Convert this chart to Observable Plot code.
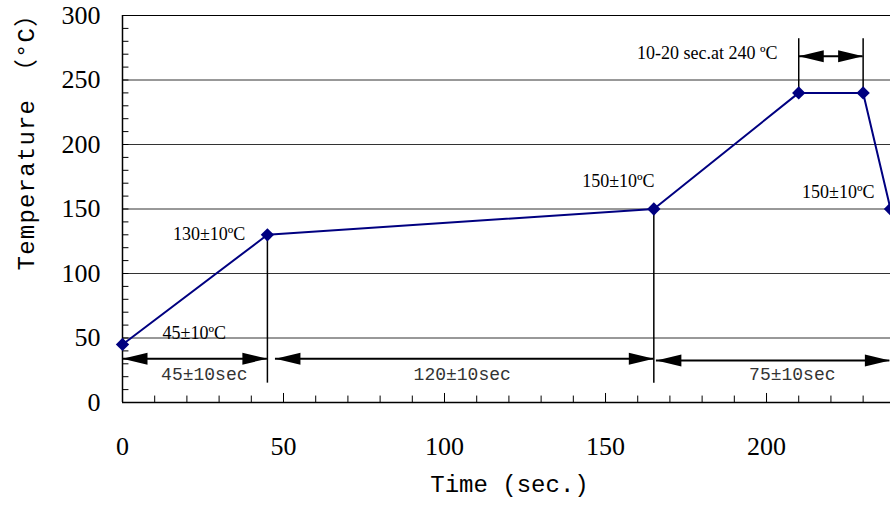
<!DOCTYPE html>
<html><head><meta charset="utf-8">
<script src="https://cdn.jsdelivr.net/npm/d3@7"></script>
<script src="https://cdn.jsdelivr.net/npm/@observablehq/plot@0.6"></script>
<style>body{margin:0;background:#fff;overflow:hidden}</style>
</head><body><div id="chart"></div>
<script>
// reflow profile
const times = [0, 45, 165, 210, 230, 238.5];
const temps = [45, 130, 150, 240, 240, 150];
// axes
const xTickLabels = [0, 50, 100, 150, 200];
const yTickLabels = [0, 50, 100, 150, 200, 250, 300];
const gridValues = [50, 100, 150, 200, 250];
const minorX = d3.range(10, 240, 10);
const minorY = d3.range(10, 300, 10);
const xTitle = "Time (sec.)";
const yTitle = "Temperature （°C）";
// temperature annotations
const tempLabelText = ["45±10ºC", "130±10ºC", "150±10ºC", "150±10ºC", "10-20 sec.at 240 ºC"];
const tempLabelX = [22.3, 26.9, 154, 222.3, 181.6];
const tempLabelY = [54, 130.2, 171.8, 163.3, 270.5];
// phase arrows
const arrowFrom = [0, 47.5, 165.8, 210];
const arrowTo = [45, 165, 238.3, 230];
const arrowY = [34, 34, 32.5, 268.5];
const phaseText = ["45±10sec", "120±10sec", "75±10sec"];
const phaseX = [25.4, 105.5, 208];
const phaseY = [22, 22, 22];
// guide lines
const guideX = [45, 165, 210, 230];
const guideFrom = [15, 15, 240, 240];
const guideTo = [130, 150, 282, 282];

const points = times.map((t, i) => ({t, temp: temps[i]}));
const tempLabels = tempLabelText.map((text, i) => ({text, x: tempLabelX[i], y: tempLabelY[i]}));
const arrows = arrowFrom.map((f, i) => ({from: f, to: arrowTo[i], y: arrowY[i]}));
const phases = phaseText.map((text, i) => ({text, x: phaseX[i], y: phaseY[i]}));
const guides = guideX.map((x, i) => ({x, from: guideFrom[i], to: guideTo[i]}));

const headRight = {draw(ctx) { ctx.moveTo(0, 0); ctx.lineTo(-25, -6); ctx.lineTo(-25, 6); ctx.closePath(); }};
const headLeft = {draw(ctx) { ctx.moveTo(0, 0); ctx.lineTo(25, -6); ctx.lineTo(25, 6); ctx.closePath(); }};

const plot = Plot.plot({
  width: 890, height: 506,
  marginLeft: 122, marginRight: 0, marginTop: 15, marginBottom: 104,
  x: {domain: [0, 238.5]},
  y: {domain: [0, 300]},
  style: {background: "white", color: "#000"},
  marks: [
    Plot.ruleY(gridValues, {stroke: "#333", strokeWidth: 1}),
    Plot.ruleY([300], {stroke: "#000", strokeWidth: 1.2}),
    Plot.ruleX(minorX, {y1: 0, y2: 5, stroke: "#000", strokeWidth: 1}),
    Plot.ruleX(xTickLabels, {y1: 0, y2: 7, stroke: "#000", strokeWidth: 1}),
    Plot.ruleY(minorY, {x1: 0, x2: 2, stroke: "#000", strokeWidth: 1}),
    Plot.ruleX([0], {stroke: "#000", strokeWidth: 1.5}),
    Plot.ruleY([0], {stroke: "#000", strokeWidth: 1.5}),
    Plot.axisX({ticks: xTickLabels, tickSize: 0, tickPadding: 34, fontSize: 26, fontFamily: "Liberation Serif", label: null}),
    Plot.axisY({ticks: yTickLabels, tickSize: 0, tickPadding: 22, fontSize: 26, fontFamily: "Liberation Serif", label: null}),
    Plot.text([xTitle], {frameAnchor: "bottom", dx: 3, dy: 89, fontSize: 24, fontFamily: "Liberation Mono, Noto Sans CJK SC", fill: "#000"}),
    Plot.text([yTitle], {frameAnchor: "left", textAnchor: "middle", rotate: -90, dx: -96, dy: -73, fontSize: 24, fontFamily: "Liberation Mono, Noto Sans CJK SC", fill: "#000"}),
    Plot.ruleX(guides, {x: "x", y1: "from", y2: "to", stroke: "#000", strokeWidth: 1.5}),
    Plot.ruleY(arrows, {y: "y", x1: "from", x2: "to", stroke: "#000", strokeWidth: 2}),
    Plot.dot(arrows, {x: "from", y: "y", symbol: headLeft, fill: "#000", stroke: null}),
    Plot.dot(arrows, {x: "to", y: "y", symbol: headRight, fill: "#000", stroke: null}),
    Plot.text(tempLabels, {x: "x", y: "y", text: "text", fontSize: 18, fontFamily: "Liberation Serif", fill: "#000"}),
    Plot.text(phases, {x: "x", y: "y", text: "text", fontSize: 18, fontFamily: "Liberation Mono", fill: "#333"}),
    Plot.line(points, {x: "t", y: "temp", stroke: "#000080", strokeWidth: 2}),
    Plot.dot(points, {x: "t", y: "temp", symbol: "diamond2", r: 6, fill: "#000080", stroke: null})
  ]
});
document.getElementById("chart").appendChild(plot);
d3.select(plot).selectAll("text").filter(function() { return this.textContent === yTitle; }).attr("letter-spacing", "1.2px");
</script>
</body></html>
